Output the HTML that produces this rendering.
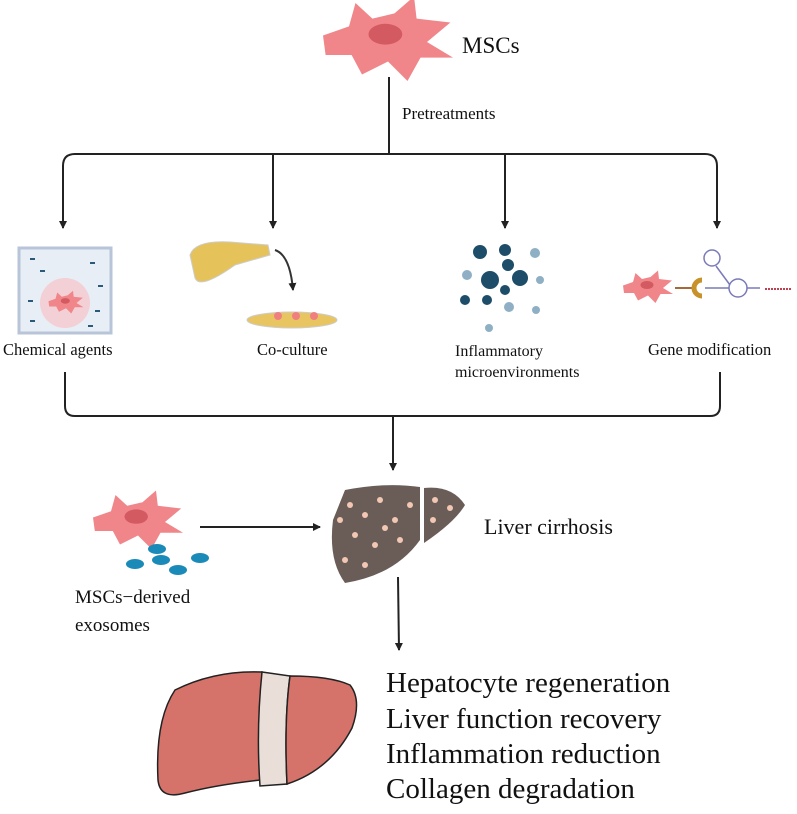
<!DOCTYPE html>
<html><head><meta charset="utf-8"><style>
body{margin:0;background:#fff;width:797px;height:809px;overflow:hidden}
svg text{font-family:"Liberation Serif",serif;fill:#111}
</style></head><body>
<svg width="797" height="809" viewBox="0 0 797 809">
<defs>
<marker id="a" markerWidth="8" markerHeight="8" refX="7" refY="4" orient="auto" markerUnits="userSpaceOnUse"><path d="M0,0 L8,4 L0,8 z" fill="#222"/></marker>
<g id="cell"><path d="M-50,-5 L-30,-12 L-25,-30 L-12,-18 L5,-22 L20,-35 L22,-18 L48,-15 L30,0 L50,12 L25,12 L15,30 L0,15 L-20,25 L-28,10 L-48,10 z" fill="#f0868a"/><ellipse cx="-2" cy="-6" rx="13" ry="8" fill="#d45a62"/></g>
</defs>
<g stroke="#222" stroke-width="2" fill="none">
<line x1="389" y1="77" x2="389" y2="154"/>
<path d="M63,228 V166 Q63,154 75,154 H705 Q717,154 717,166 V228" marker-end="url(#a)"/>
<line x1="63" y1="166" x2="63" y2="228" marker-end="url(#a)"/>
<line x1="273" y1="154" x2="273" y2="228" marker-end="url(#a)"/>
<line x1="505" y1="154" x2="505" y2="228" marker-end="url(#a)"/>
<path d="M65,372 V406 Q65,416 75,416 H710 Q720,416 720,406 V372"/>
<line x1="393" y1="416" x2="393" y2="470" marker-end="url(#a)"/>
<line x1="200" y1="527" x2="320" y2="527" marker-end="url(#a)"/>
<line x1="398" y1="577" x2="399" y2="650" marker-end="url(#a)"/>
</g>
<use href="#cell" transform="translate(388,42) scale(1.3)"/>
<text x="462" y="53" font-size="23">MSCs</text>
<text x="402" y="119" font-size="17">Pretreatments</text>
<!-- beaker -->
<rect x="19" y="248" width="92" height="85" fill="#e8eef6" stroke="#b8c4d8" stroke-width="3"/>
<circle cx="65" cy="303" r="25" fill="#f7c3c8" opacity=".7"/>
<use href="#cell" transform="translate(66,303) scale(0.35)"/>
<g fill="#2a5a7a"><rect x="30" y="258" width="5" height="2"/><rect x="90" y="262" width="5" height="2"/><rect x="40" y="270" width="5" height="2"/><rect x="28" y="300" width="5" height="2"/><rect x="95" y="310" width="5" height="2"/><rect x="30" y="320" width="5" height="2"/><rect x="88" y="325" width="5" height="2"/><rect x="98" y="285" width="5" height="2"/></g>
<text x="3" y="355" font-size="16.5">Chemical agents</text>
<!-- flask -->
<path d="M190,255 Q195,240 230,242 L268,245 L270,255 L235,265 Q200,290 195,278 z" fill="#e6c25a" stroke="#ccc"/>
<path d="M275,250 Q290,255 293,290" stroke="#333" stroke-width="2" fill="none" marker-end="url(#a)"/>
<ellipse cx="292" cy="320" rx="45" ry="8" fill="#e8c560" stroke="#ccc"/>
<g fill="#f08080"><circle cx="278" cy="316" r="4"/><circle cx="296" cy="316" r="4"/><circle cx="314" cy="316" r="4"/></g>
<text x="257" y="355" font-size="16.5">Co-culture</text>
<!-- inflammatory -->
<g fill="#1d4d68"><circle cx="480" cy="252" r="7"/><circle cx="505" cy="250" r="6"/><circle cx="490" cy="280" r="9"/><circle cx="520" cy="278" r="8"/><circle cx="508" cy="265" r="6"/><circle cx="487" cy="300" r="5"/><circle cx="505" cy="290" r="5"/><circle cx="465" cy="300" r="5"/></g>
<g fill="#8fb0c4"><circle cx="467" cy="275" r="5"/><circle cx="535" cy="253" r="5"/><circle cx="540" cy="280" r="4"/><circle cx="509" cy="307" r="5"/><circle cx="536" cy="310" r="4"/><circle cx="489" cy="328" r="4"/></g>
<text x="455" y="356" font-size="16">Inflammatory</text>
<text x="455" y="377" font-size="16">microenvironments</text>
<!-- gene -->
<use href="#cell" transform="translate(648,288) scale(0.5)"/>
<line x1="675" y1="288" x2="695" y2="288" stroke="#a56a3a" stroke-width="2"/>
<path d="M702,280 A8,8 0 1,0 702,296" stroke="#c8922a" stroke-width="5" fill="none"/>
<g stroke="#7a7ab8" stroke-width="1.5" fill="none"><circle cx="712" cy="258" r="8"/><line x1="716" y1="266" x2="730" y2="285"/><circle cx="738" cy="288" r="9"/><line x1="705" y1="288" x2="729" y2="288"/><line x1="747" y1="288" x2="760" y2="288"/></g>
<line x1="765" y1="289" x2="792" y2="289" stroke="#c04050" stroke-width="2" stroke-dasharray="2,1"/>
<text x="648" y="355" font-size="16.5">Gene modification</text>
<!-- exosomes -->
<use href="#cell" transform="translate(138,522) scale(0.9)"/>
<g fill="#1a8ab8"><ellipse cx="157" cy="549" rx="9" ry="5"/><ellipse cx="135" cy="564" rx="9" ry="5"/><ellipse cx="161" cy="560" rx="9" ry="5"/><ellipse cx="200" cy="558" rx="9" ry="5"/><ellipse cx="178" cy="570" rx="9" ry="5"/></g>
<text x="75" y="603" font-size="19">MSCs−derived</text>
<text x="75" y="631" font-size="19">exosomes</text>
<!-- cirrhotic liver -->
<path d="M345,490 Q385,482 420,487 L420,540 Q395,575 345,583 Q328,560 333,520 z" fill="#6a5d58"/>
<path d="M424,488 Q452,485 465,505 Q455,522 424,543 z" fill="#6a5d58"/>
<g fill="#f2c7b4"><circle cx="350" cy="505" r="3"/><circle cx="365" cy="515" r="3"/><circle cx="380" cy="500" r="3"/><circle cx="395" cy="520" r="3"/><circle cx="410" cy="505" r="3"/><circle cx="355" cy="535" r="3"/><circle cx="375" cy="545" r="3"/><circle cx="400" cy="540" r="3"/><circle cx="345" cy="560" r="3"/><circle cx="365" cy="565" r="3"/><circle cx="435" cy="500" r="3"/><circle cx="450" cy="508" r="3"/><circle cx="433" cy="520" r="3"/><circle cx="385" cy="528" r="3"/><circle cx="340" cy="520" r="3"/></g>
<text x="484" y="534" font-size="22">Liver cirrhosis</text>
<!-- healthy liver -->
<path d="M175,690 Q215,670 262,672 L260,780 Q215,785 185,793 Q160,800 158,780 Q155,720 175,690 z" fill="#d5736a" stroke="#222" stroke-width="1.5"/>
<path d="M262,672 L290,676 Q284,720 287,784 L260,786 Q256,730 262,672 z" fill="#eadfd8" stroke="#222" stroke-width="1.5"/>
<path d="M290,676 Q330,676 350,685 Q362,700 352,728 Q330,770 287,784 Q284,720 290,676 z" fill="#d5736a" stroke="#222" stroke-width="1.5"/>
<g font-size="29"><text x="386" y="692">Hepatocyte regeneration</text><text x="386" y="728">Liver function recovery</text><text x="386" y="763">Inflammation reduction</text><text x="386" y="798">Collagen degradation</text></g>
</svg>
</body></html>
